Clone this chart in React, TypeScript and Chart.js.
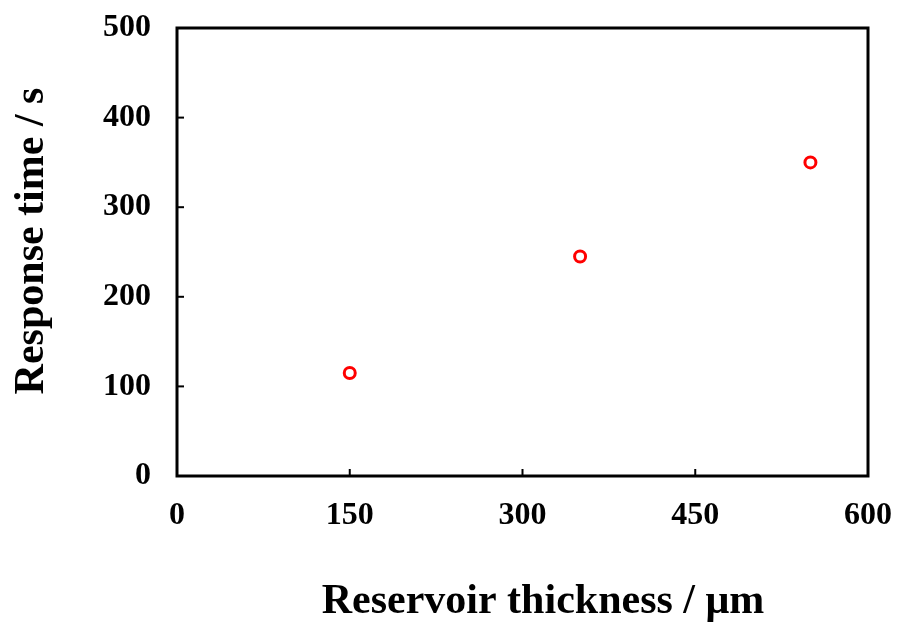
import React, { useEffect, useRef } from "react";
import { Chart, registerables } from "chart.js";

Chart.register(...registerables);

const thickness = [150, 350, 550];
const responseTime = [115, 245, 350];
const xTicks = [0, 150, 300, 450, 600];
const yTicks = [0, 100, 200, 300, 400, 500];
const xTitle = "Reservoir thickness / μm";
const yTitle = "Response time / s";

const FONT = "'Liberation Serif', 'Times New Roman', serif";

const framePlugin = {
  id: "frame",
  afterDraw(chart: any) {
    const { ctx, chartArea } = chart;
    const { left, right, top, bottom } = chartArea;
    ctx.save();
    ctx.strokeStyle = "#000";
    ctx.lineWidth = 3;
    ctx.strokeRect(left, top, right - left, bottom - top);
    ctx.lineWidth = 2;
    const xs = chart.scales.x;
    const ys = chart.scales.y;
    xs.ticks.forEach((t: any) => {
      const px = xs.getPixelForValue(t.value);
      ctx.beginPath();
      ctx.moveTo(px, bottom);
      ctx.lineTo(px, bottom - 7);
      ctx.stroke();
    });
    ys.ticks.forEach((t: any) => {
      const py = ys.getPixelForValue(t.value);
      ctx.beginPath();
      ctx.moveTo(left, py);
      ctx.lineTo(left + 7, py);
      ctx.stroke();
    });
    ctx.fillStyle = "#000";
    ctx.font = `bold 42px ${FONT}`;
    ctx.textAlign = "center";
    ctx.textBaseline = "alphabetic";
    ctx.fillText(xTitle, 543, 613);
    ctx.translate(43, 241);
    ctx.rotate(-Math.PI / 2);
    ctx.fillText(yTitle, 0, 0);
    ctx.restore();
  },
};

const zeroPad = (s: any) => {
  s.paddingLeft = 0;
  s.paddingRight = 0;
  s.paddingTop = 0;
  s.paddingBottom = 0;
};

export default function App() {
  const ref = useRef<HTMLCanvasElement>(null);
  useEffect(() => {
    const chart = new Chart(ref.current as HTMLCanvasElement, {
      type: "scatter",
      data: {
        datasets: [
          {
            data: thickness.map((x, i) => ({ x, y: responseTime[i] })),
            borderColor: "#ff0000",
            backgroundColor: "#ffffff",
            borderWidth: 3,
            pointRadius: 5.5,
            pointStyle: "circle",
          },
        ],
      },
      options: {
        animation: false,
        responsive: false,
        maintainAspectRatio: false,
        layout: { padding: { left: 0, top: 28, right: 30, bottom: 0 } },
        plugins: { legend: { display: false }, tooltip: { enabled: false } },
        scales: {
          x: {
            type: "linear",
            min: 0,
            max: 600,
            afterBuildTicks: (s: any) => {
              s.ticks = xTicks.map((v) => ({ value: v }));
            },
            afterFit: (s: any) => {
              s.height = 148;
              zeroPad(s);
            },
            grid: { display: false, drawTicks: false },
            border: { display: false },
            ticks: {
              padding: 21,
              color: "#000",
              font: { family: FONT, weight: "bold", size: 32 },
            },
          },
          y: {
            type: "linear",
            min: 0,
            max: 500,
            afterBuildTicks: (s: any) => {
              s.ticks = yTicks.map((v) => ({ value: v }));
            },
            afterFit: (s: any) => {
              s.width = 177;
              zeroPad(s);
            },
            grid: { display: false, drawTicks: false },
            border: { display: false },
            ticks: {
              padding: 26,
              color: "#000",
              font: { family: FONT, weight: "bold", size: 32 },
            },
          },
        },
      },
      plugins: [framePlugin],
    } as any);
    return () => chart.destroy();
  }, []);
  return (
    <div style={{ position: "fixed", left: 0, top: 0, width: 898, height: 624, background: "#fff" }}>
      <canvas ref={ref} width={898} height={624} />
    </div>
  );
}
